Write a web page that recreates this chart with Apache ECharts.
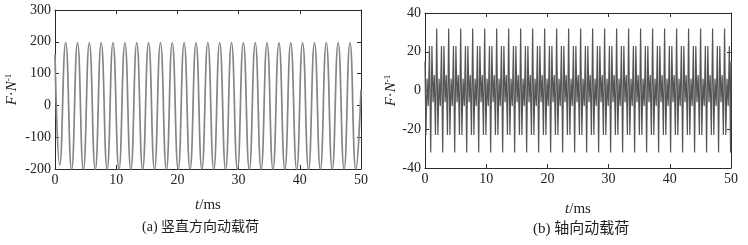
<!DOCTYPE html>
<html><head><meta charset="utf-8">
<script src="https://cdn.jsdelivr.net/npm/echarts/dist/echarts.min.js"></script>
<style>html,body{margin:0;padding:0;background:#fff}#c{width:748px;height:245px}</style>
</head><body><div id="c"></div>
<script>
// (a) vertical dynamic load: time (ms) and force (N) at the extremes
const vertT = [0,
  0.77, 1.74, 2.71, 3.68, 4.64, 5.61, 6.58, 7.55, 8.52, 9.48,
  10.45, 11.42, 12.39, 13.36, 14.32, 15.29, 16.26, 17.23, 18.20, 19.16,
  20.13, 21.10, 22.07, 23.04, 24.00, 24.97, 25.94, 26.91, 27.88, 28.84,
  29.81, 30.78, 31.75, 32.72, 33.68, 34.65, 35.62, 36.59, 37.56, 38.52,
  39.49, 40.46, 41.43, 42.40, 43.36, 44.33, 45.30, 46.27, 47.24, 48.20,
  49.17, 50];
const vertF = [160,
  -188, 197, -202, 197, -202, 197, -202, 197, -202, 197,
  -202, 197, -202, 197, -202, 197, -202, 197, -202, 197,
  -202, 197, -202, 197, -202, 197, -202, 197, -202, 197,
  -202, 197, -202, 197, -202, 197, -202, 197, -202, 197,
  -202, 197, -202, 197, -202, 197, -202, 197, -202, 197,
  -202, 50];

// (b) axial dynamic load: time (ms) and force (N) at the extremes
const axialT = [0, 0.15, 0.34, 0.54, 0.73,
  0.93, 1.13, 1.32, 1.52, 1.71, 1.91, 2.11, 2.30, 2.50, 2.69,
  2.89, 3.09, 3.28, 3.48, 3.67, 3.87, 4.07, 4.26, 4.46, 4.65,
  4.85, 5.05, 5.24, 5.44, 5.63, 5.83, 6.03, 6.22, 6.42, 6.61,
  6.81, 7.01, 7.20, 7.40, 7.59, 7.79, 7.99, 8.18, 8.38, 8.57,
  8.77, 8.97, 9.16, 9.36, 9.55, 9.75, 9.95, 10.14, 10.34, 10.53,
  10.73, 10.93, 11.12, 11.32, 11.51, 11.71, 11.91, 12.10, 12.30, 12.49,
  12.69, 12.89, 13.08, 13.28, 13.47, 13.67, 13.87, 14.06, 14.26, 14.45,
  14.65, 14.85, 15.04, 15.24, 15.43, 15.63, 15.83, 16.02, 16.22, 16.41,
  16.61, 16.81, 17.00, 17.20, 17.39, 17.59, 17.79, 17.98, 18.18, 18.37,
  18.57, 18.77, 18.96, 19.16, 19.35, 19.55, 19.75, 19.94, 20.14, 20.33,
  20.53, 20.73, 20.92, 21.12, 21.31, 21.51, 21.71, 21.90, 22.10, 22.29,
  22.49, 22.69, 22.88, 23.08, 23.27, 23.47, 23.67, 23.86, 24.06, 24.25,
  24.45, 24.65, 24.84, 25.04, 25.23, 25.43, 25.63, 25.82, 26.02, 26.21,
  26.41, 26.61, 26.80, 27.00, 27.19, 27.39, 27.59, 27.78, 27.98, 28.17,
  28.37, 28.57, 28.76, 28.96, 29.15, 29.35, 29.55, 29.74, 29.94, 30.13,
  30.33, 30.53, 30.72, 30.92, 31.11, 31.31, 31.51, 31.70, 31.90, 32.09,
  32.29, 32.49, 32.68, 32.88, 33.07, 33.27, 33.47, 33.66, 33.86, 34.05,
  34.25, 34.45, 34.64, 34.84, 35.03, 35.23, 35.43, 35.62, 35.82, 36.01,
  36.21, 36.41, 36.60, 36.80, 36.99, 37.19, 37.39, 37.58, 37.78, 37.97,
  38.17, 38.37, 38.56, 38.76, 38.95, 39.15, 39.35, 39.54, 39.74, 39.93,
  40.13, 40.33, 40.52, 40.72, 40.91, 41.11, 41.31, 41.50, 41.70, 41.89,
  42.09, 42.29, 42.48, 42.68, 42.87, 43.07, 43.27, 43.46, 43.66, 43.85,
  44.05, 44.25, 44.44, 44.64, 44.83, 45.03, 45.23, 45.42, 45.62, 45.81,
  46.01, 46.21, 46.40, 46.60, 46.79, 46.99, 47.19, 47.38, 47.58, 47.77,
  47.97, 48.17, 48.36, 48.56, 48.75, 48.95, 49.15, 49.34, 49.54, 49.73,
  49.93, 50];
const axialF = [15, -23, 6, -8, 23,
  -32, 23, -6, 8, -23, 32, -23, 6, -8, 23,
  -32, 23, -6, 8, -23, 32, -23, 6, -8, 23,
  -32, 23, -6, 8, -23, 32, -23, 6, -8, 23,
  -32, 23, -6, 8, -23, 32, -23, 6, -8, 23,
  -32, 23, -6, 8, -23, 32, -23, 6, -8, 23,
  -32, 23, -6, 8, -23, 32, -23, 6, -8, 23,
  -32, 23, -6, 8, -23, 32, -23, 6, -8, 23,
  -32, 23, -6, 8, -23, 32, -23, 6, -8, 23,
  -32, 23, -6, 8, -23, 32, -23, 6, -8, 23,
  -32, 23, -6, 8, -23, 32, -23, 6, -8, 23,
  -32, 23, -6, 8, -23, 32, -23, 6, -8, 23,
  -32, 23, -6, 8, -23, 32, -23, 6, -8, 23,
  -32, 23, -6, 8, -23, 32, -23, 6, -8, 23,
  -32, 23, -6, 8, -23, 32, -23, 6, -8, 23,
  -32, 23, -6, 8, -23, 32, -23, 6, -8, 23,
  -32, 23, -6, 8, -23, 32, -23, 6, -8, 23,
  -32, 23, -6, 8, -23, 32, -23, 6, -8, 23,
  -32, 23, -6, 8, -23, 32, -23, 6, -8, 23,
  -32, 23, -6, 8, -23, 32, -23, 6, -8, 23,
  -32, 23, -6, 8, -23, 32, -23, 6, -8, 23,
  -32, 23, -6, 8, -23, 32, -23, 6, -8, 23,
  -32, 23, -6, 8, -23, 32, -23, 6, -8, 23,
  -32, 23, -6, 8, -23, 32, -23, 6, -8, 23,
  -32, 23, -6, 8, -23, 32, -23, 6, -8, 23,
  -32, 23, -6, 8, -23, 32, -23, 6, -8, 23,
  -32, 15];

const xTicks = {min: 0, max: 50, interval: 10};
const vertTicks = {min: -200, max: 300, interval: 100};
const axialTicks = {min: -40, max: 40, interval: 20};
const captions = ['(a) 竖直方向动载荷', '(b) 轴向动载荷'];

const serif = "'Liberation Serif', 'Times New Roman', serif";
const cjk = "'Liberation Serif', 'Noto Sans CJK SC', serif";
const frame = '#2a2a2a';

function pairs(xs, ys) { return xs.map((x, i) => [x, ys[i]]); }

const yName = '{i|F}{n|·}{i|N}{s|-1}';
const nameRich = {
  i: {fontStyle: 'italic', fontFamily: serif, fontSize: 15, color: '#222'},
  s: {fontFamily: serif, fontSize: 9, color: '#222', verticalAlign: 'top', padding: [0, 0, 7, 0]},
  n: {fontFamily: serif, fontSize: 15, color: '#222'}
};

function xMain(grid, gap) {
  return {type: 'value', gridIndex: grid, position: 'bottom', ...xTicks,
    name: '{i|t}{n|/ms}', nameLocation: 'middle', nameGap: gap,
    nameTextStyle: {rich: nameRich},
    axisLine: {show: true, onZero: false, lineStyle: {color: frame, width: 1}},
    axisTick: {show: true, inside: true, length: 4, lineStyle: {color: frame}},
    axisLabel: {fontFamily: serif, fontSize: 14, color: '#222', margin: 4},
    splitLine: {show: false}};
}
function xTop(grid) {
  return {type: 'value', gridIndex: grid, position: 'top', ...xTicks,
    axisLine: {show: true, onZero: false, lineStyle: {color: frame, width: 1}},
    axisTick: {show: true, inside: true, length: 4, lineStyle: {color: frame}},
    axisLabel: {show: false}, splitLine: {show: false}};
}
function yMain(grid, t, gap) {
  return {type: 'value', gridIndex: grid, position: 'left', ...t,
    name: yName, nameLocation: 'middle', nameGap: gap, nameRotate: 90,
    nameTextStyle: {rich: nameRich},
    axisLine: {show: true, onZero: false, lineStyle: {color: frame, width: 1}},
    axisTick: {show: true, inside: true, length: 4, lineStyle: {color: frame}},
    axisLabel: {fontFamily: serif, fontSize: 14, color: '#222', margin: 4},
    splitLine: {show: false}};
}
function yRight(grid, t) {
  return {type: 'value', gridIndex: grid, position: 'right', ...t,
    axisLine: {show: true, onZero: false, lineStyle: {color: frame, width: 1}},
    axisTick: {show: true, inside: true, length: 4, lineStyle: {color: frame}},
    axisLabel: {show: false}, splitLine: {show: false}};
}

const chart = echarts.init(document.getElementById('c'), null, {renderer: 'canvas'});
chart.setOption({
  backgroundColor: '#fff',
  animation: false,
  grid: [
    {left: 55, right: 387, top: 10, bottom: 76},
    {left: 425, right: 17, top: 13, bottom: 77}
  ],
  xAxis: [xMain(0, 29), xTop(0), xMain(1, 34), xTop(1)],
  yAxis: [yMain(0, vertTicks, 35), yRight(0, vertTicks), yMain(1, axialTicks, 25), yRight(1, axialTicks)],
  graphic: [
    {type: 'text', left: 142, top: 220, style: {text: captions[0], font: "14px " + cjk, fill: '#222'}},
    {type: 'text', left: 533, top: 222, style: {text: captions[1], font: "15px " + cjk, fill: '#222'}}
  ],
  series: [
    {type: 'line', xAxisIndex: 0, yAxisIndex: 0, data: pairs(vertT, vertF),
      smooth: 0.5, showSymbol: false, lineStyle: {color: '#858585', width: 1.7}},
    {type: 'line', xAxisIndex: 2, yAxisIndex: 2, data: pairs(axialT, axialF),
      showSymbol: false, lineStyle: {color: '#555', width: 1.2}}
  ]
});
</script></body></html>
